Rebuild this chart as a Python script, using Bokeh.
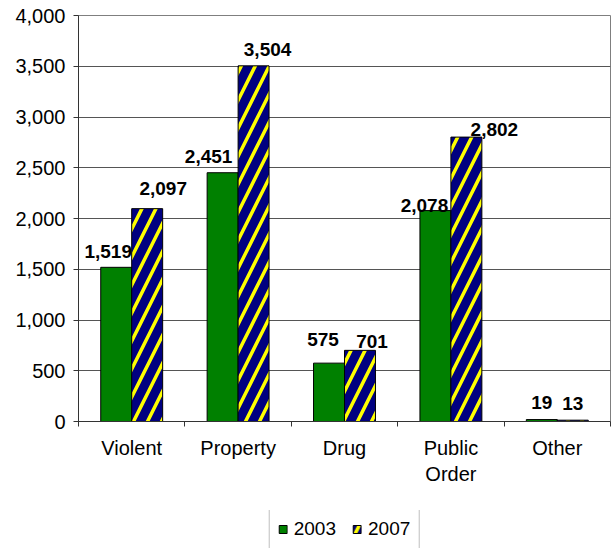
from bokeh.plotting import figure
from bokeh.layouts import column
from bokeh.models import (Range1d, FixedTicker, NumeralTickFormatter, Legend,
                          LegendItem, ColumnDataSource)
from bokeh.core.properties import value
from bokeh.embed import file_html
from bokeh.resources import INLINE

# Offense categories and counts for the two years
categories = ["Violent", "Property", "Drug", "Public\nOrder", "Other"]
counts_2003 = [1519, 2451, 575, 2078, 19]
counts_2007 = [2097, 3504, 701, 2802, 13]
years = ["2003", "2007"]
y_ticks = [0, 500, 1000, 1500, 2000, 2500, 3000, 3500, 4000]

# pixel nudges for the value labels (dx, dy above the bar top)
shift_2003 = [(-8, 16), (-14, 16), (-6, 24), (-11, 5), (0, 17)]
shift_2007 = [(16, 20), (14, 16), (12, 9), (28, 8), (0, 17)]

FONT = "Liberation Sans"
half = 0.1455
bar_w = 0.291

STYLE_2003 = dict(fill_color="#008000", line_color="black", line_width=1)
STYLE_2007 = dict(fill_color="#000080", line_color="black", line_width=1,
                  hatch_pattern="right_diagonal_line", hatch_color="#ffff00",
                  hatch_scale=28, hatch_weight=3.5)

centers = [i + 0.5 for i in range(len(categories))]

src03 = ColumnDataSource(dict(
    x=[c - half for c in centers], top=counts_2003,
    label=[f"{v:,}" for v in counts_2003],
    dx=[s[0] for s in shift_2003], dy=[-s[1] for s in shift_2003]))
src07 = ColumnDataSource(dict(
    x=[c + half for c in centers], top=counts_2007,
    label=[f"{v:,}" for v in counts_2007],
    dx=[s[0] for s in shift_2007], dy=[-s[1] for s in shift_2007]))

p = figure(width=611, height=505, output_backend="svg", toolbar_location=None,
           x_range=Range1d(0, len(categories)), y_range=Range1d(0, 4000),
           min_border_left=78, min_border_right=1, min_border_top=15,
           min_border_bottom=84)
p.background_fill_color = "white"
p.border_fill_color = "white"
p.outline_line_color = "#7f7f7f"

p.vbar(x="x", top="top", width=bar_w, bottom=0, source=src03, **STYLE_2003)
p.vbar(x="x", top="top", width=bar_w, bottom=0, source=src07, **STYLE_2007)

for src in (src03, src07):
    p.text(x="x", y="top", text="label", source=src, x_offset="dx", y_offset="dy",
           text_align="center", text_baseline="alphabetic",
           text_font=value(FONT), text_font_size="19px", text_font_style="bold",
           text_color="black")

# y axis
p.yaxis.ticker = FixedTicker(ticks=y_ticks)
p.yaxis.formatter = NumeralTickFormatter(format="0,0")
p.yaxis.major_label_text_font = FONT
p.yaxis.major_label_text_font_size = "20px"
p.yaxis.major_label_text_color = "black"
p.yaxis.axis_line_color = "#333333"
p.yaxis.major_tick_line_color = "#333333"
p.yaxis.major_tick_out = 5
p.yaxis.major_tick_in = 0
p.yaxis.minor_tick_line_color = None
p.yaxis.major_label_standoff = 8

# x axis: labels at category centers, tick marks at category boundaries
p.xaxis.ticker = FixedTicker(ticks=centers,
                             minor_ticks=list(range(len(categories) + 1)))
p.xaxis.major_label_overrides = {c: name for c, name in zip(centers, categories)}
p.xaxis.major_label_text_font = FONT
p.xaxis.major_label_text_font_size = "20px"
p.xaxis.major_label_text_color = "black"
p.xaxis.axis_line_color = "#333333"
p.xaxis.major_tick_line_color = None
p.xaxis.minor_tick_line_color = "#333333"
p.xaxis.minor_tick_out = 5
p.xaxis.minor_tick_in = 0
p.xaxis.major_label_standoff = 9

p.xgrid.grid_line_color = None
p.ygrid.ticker = FixedTicker(ticks=y_ticks)
p.ygrid.grid_line_color = "#555555"
p.ygrid.grid_line_width = 1

# legend strip under the chart; its key renderers reuse the bar data but the
# strip's y range lies above every value, so only the legend keys show
leg = figure(width=611, height=43, output_backend="svg", toolbar_location=None,
             x_range=Range1d(0, len(categories)), y_range=Range1d(5000, 6000),
             x_axis_location=None, y_axis_location=None,
             min_border_left=78, min_border_right=1, min_border_top=5,
             min_border_bottom=0)
leg.outline_line_color = None
leg.grid.visible = False
leg.background_fill_color = "white"
leg.border_fill_color = "white"
k03 = leg.vbar(x="x", top="top", width=bar_w, bottom=0, source=src03, **STYLE_2003)
k07 = leg.vbar(x="x", top="top", width=bar_w, bottom=0, source=src07, **STYLE_2007)

legend = Legend(items=[LegendItem(label=years[0], renderers=[k03]),
                       LegendItem(label=years[1], renderers=[k07])],
                orientation="horizontal", location="center")
legend.label_text_font = FONT
legend.label_text_font_size = "19px"
legend.label_text_color = "black"
legend.glyph_width = 10
legend.glyph_height = 10
legend.label_standoff = 6
legend.spacing = 16
legend.padding = 8
legend.margin = 0
legend.border_line_color = "#808080"
legend.border_line_width = 1
legend.background_fill_color = "white"
legend.background_fill_alpha = 1
leg.add_layout(legend, "center")

open("out.html", "w").write(file_html(column(p, leg, spacing=0), INLINE))
